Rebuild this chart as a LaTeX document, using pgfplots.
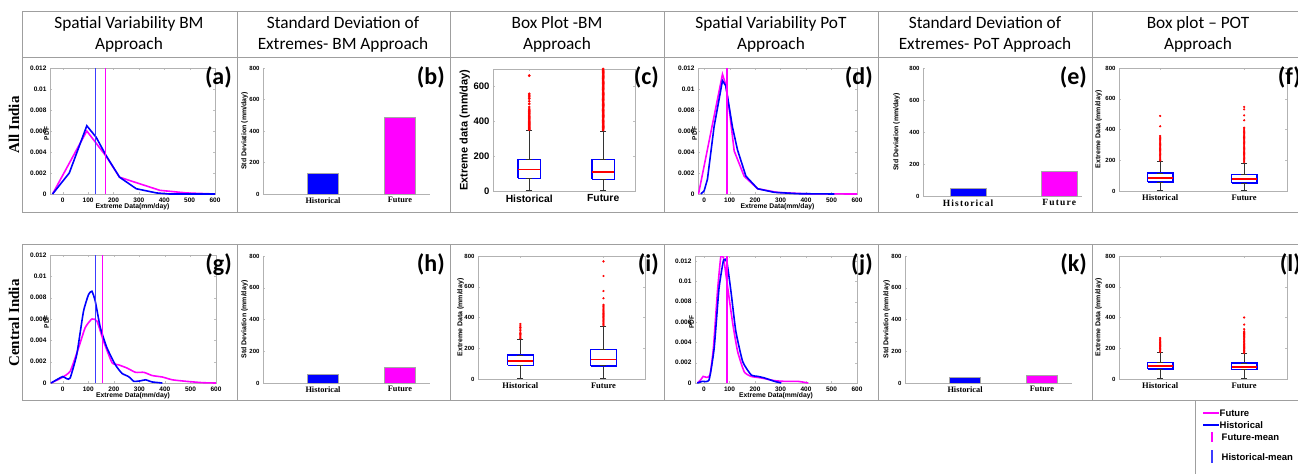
\documentclass[border=0pt]{standalone}
\usepackage{fontspec}
\setmainfont{Liberation Sans}
\newfontfamily\calib{Carlito}
\newfontfamily\tnr{Liberation Serif}
\newfontfamily\tnrw[LetterSpace=12]{Liberation Serif}
\usepackage{pgfplots}
\pgfplotsset{compat=1.18}
\newcommand{\fs}[1]{\fontsize{#1}{#1}\selectfont}
\definecolor{colF}{RGB}{255,0,255}
\definecolor{colH}{RGB}{0,0,255}
\definecolor{colHm}{RGB}{60,60,255}

\pgfplotsset{
  base/.style={scale only axis, anchor=south west, axis line style={gray!60}, tick style={gray!50},
    tick align=inside, major tick length=2pt, /pgf/number format/assume math mode=true},
  pdf/.style={base, ymin=0, ymax=0.012, xmax=600, xtick={0,100,...,600},
    ytick={0,0.002,0.004,0.006,0.008,0.01,0.012}, scaled y ticks=false,
    yticklabel style={/pgf/number format/fixed, /pgf/number format/precision=3},
    tick label style={font=\bfseries\fs{6.5}},
    xlabel={Extreme Data(mm/day)}, ylabel={PDF},
    xlabel style={font=\bfseries\fs{6.8}, at={(axis description cs:0.5,0)}, anchor=center, yshift=-13pt},
    ylabel style={font=\bfseries\fs{6.5}, at={(axis description cs:0,0.48)}, anchor=south, inner sep=1pt}},
  crv/.style={line width=1.6pt},
  meanline/.style={ycomb, line width=1.4pt, mark=none},
  bars/.style={base, axis lines*=left, axis line style={gray!60,-}, ymin=0, ymax=800,
    ytick={0,200,400,600,800}, xtick={1,2}, xticklabels={Historical,Future},
    yticklabel style={font=\bfseries\fs{6}}, xticklabel style={font=\tnr\bfseries\fs{8.3}},
    ylabel={Std Deviation (mm/day)}},
  onebar/.style={ybar, bar shift=0pt, bar width=0.4, draw=gray!70},
  boxes/.style={base, ymin=0, xtick={1,2}, xticklabels={Historical,Future},
    yticklabel style={font=\bfseries\fs{6}}, xticklabel style={font=\tnr\bfseries\fs{8.5}},
    ylabel={Extreme Data (mm/day)}},
  ylab/.style={ylabel style={font=\bfseries\fs{7}, at={([xshift=#1]axis description cs:0,0.5)}, anchor=south, inner sep=0pt}},
}

% box: position, box left, box right, lower whisker, Q1, median, Q3, upper whisker
\newcommand{\bxp}[8]{%
  \addplot[black!80, line width=1pt, mark=-, mark size=3pt] coordinates {(#1,#4) (#1,#5)};
  \addplot[black!80, line width=1pt, mark=-, mark size=3pt] coordinates {(#1,#7) (#1,#8)};
  \addplot[colH, line width=1.5pt] coordinates {(#2,#5) (#3,#5) (#3,#7) (#2,#7) (#2,#5)};
  \addplot[red, line width=1.3pt] coordinates {(#2,#6) (#3,#6)};
}
% outliers: position, mark size, values
\newcommand{\outl}[3]{%
  \addplot[only marks, mark=*, mark size=#2, red] table[row sep=\\, header=false, x expr=#1, y index=0] {#3};
}

\begin{document}
\begin{tikzpicture}
\useasboundingbox (0pt,0pt) rectangle (1298pt,-474pt);
\clip (0pt,0pt) rectangle (1298pt,-474pt);

% table frame
\begin{scope}[gray!75, line width=1pt]
\draw (22pt,-11pt) -- (1298pt,-11pt);
\draw (22pt,-57pt) -- (1298pt,-57pt);
\draw (22pt,-212pt) -- (1298pt,-212pt);
\draw (22pt,-244pt) -- (1298pt,-244pt);
\draw (22pt,-400pt) -- (1298pt,-400pt);
\foreach \cx in {22,237,450,664,878,1092} {
  \draw (\cx pt,-11pt) -- (\cx pt,-212pt);
  \draw (\cx pt,-244pt) -- (\cx pt,-400pt);
}
\draw (1195pt,-400pt) -- (1195pt,-474pt);
\end{scope}

% column titles
\begin{scope}[every node/.style={anchor=base, font=\calib\fs{17.3}, inner sep=0pt}]
\node at (129pt,-28pt) {Spatial Variability BM};  \node at (129pt,-49pt) {Approach};
\node at (343pt,-28pt) {Standard Deviation of};   \node at (343pt,-49pt) {Extremes- BM Approach};
\node at (557pt,-28pt) {Box Plot -BM};            \node at (557pt,-49pt) {Approach};
\node at (771pt,-28pt) {Spatial Variability PoT}; \node at (771pt,-49pt) {Approach};
\node at (985pt,-28pt) {Standard Deviation of};   \node at (985pt,-49pt) {Extremes- PoT Approach};
\node at (1198pt,-28pt) {Box plot – POT};         \node at (1198pt,-49pt) {Approach};
\end{scope}

% row labels
\node[rotate=90, font=\tnr\bfseries\fs{15}] at (14pt,-125pt) {All India};
\node[rotate=90, font=\tnr\bfseries\fs{15}] at (14pt,-323pt) {Central India};

% (a) spatial variability BM, all India
\begin{axis}[pdf, at={(50pt,-194pt)}, width=165pt, height=126pt, xmin=-50]
\addplot[crv, colF] coordinates {(-40,0) (95,0.006) (171,0.0036) (224,0.0016) (300,0.001) (383,0.00035) (488,0.0001) (600,0)};
\addplot[crv, colH] coordinates {(-40,0) (26,0.002) (95,0.0065) (132,0.0054) (170,0.0037) (224,0.0016) (290,0.0005) (370,0.0001) (420,0) (600,0)};
\addplot[meanline, colHm] coordinates {(129,0.012)};
\addplot[meanline, colF] coordinates {(169,0.012)};
\end{axis}

% (b) std dev BM, all India
\begin{axis}[bars, ylab=-15pt, at={(263pt,-194pt)}, width=167pt, height=126pt, xmin=0.22, xmax=2.39]
\addplot[onebar, fill=colH] coordinates {(1,130)};
\addplot[onebar, fill=colF] coordinates {(2,490)};
\end{axis}

% (c) box plot BM, all India
\begin{axis}[boxes, ylab=-23pt, at={(493pt,-191pt)}, width=142pt, height=122pt, xmin=0.51, xmax=2.43,
  ymax=700, ytick={0,200,400,600},
  yticklabel style={font=\bfseries\fs{9.5}}, xticklabel style={font=\bfseries\fs{10.3}},
  ylabel={Extreme data (mm/day)}, ylabel style={font=\bfseries\fs{11}}]
\bxp{1}{0.85}{1.15}{3}{73}{122}{182}{348}
\bxp{2}{1.85}{2.15}{3}{67}{109}{180}{344}
\outl{1}{1.2pt}{352\\ 358\\ 364\\ 370\\ 376\\ 382\\ 388\\ 394\\ 400\\ 406\\ 412\\ 418\\ 424\\ 430\\ 436\\ 442\\ 448\\ 455\\ 462\\ 470\\ 482\\ 500\\ 515\\ 530\\ 540\\ 550\\ 558\\ 662\\}
\outl{2}{1.2pt}{350\\ 357\\ 364\\ 371\\ 378\\ 385\\ 392\\ 399\\ 406\\ 413\\ 420\\ 427\\ 434\\ 441\\ 448\\ 455\\ 462\\ 469\\ 476\\ 483\\ 490\\ 497\\ 504\\ 511\\ 518\\ 525\\ 532\\ 539\\ 546\\ 553\\ 560\\ 567\\ 574\\ 581\\ 588\\ 595\\ 602\\ 609\\ 616\\ 623\\ 630\\ 637\\ 644\\ 651\\ 658\\ 665\\ 672\\ 679\\ 686\\ 693\\ 700\\}
\end{axis}

% (d) spatial variability PoT, all India
\begin{axis}[pdf, at={(698pt,-194pt)}, width=159pt, height=126pt, xmin=-24]
\addplot[crv, colF] coordinates {(-22,0) (72,0.0114) (85,0.0104) (100,0.0078) (118,0.0041) (157,0.0017) (210,0.0005) (288,0.00015) (400,0.00002) (600,0)};
\addplot[crv, colH] coordinates {(-13,0) (0,0.0003) (13,0.0014) (39,0.0064) (72,0.0108) (85,0.0103) (111,0.0064) (131,0.0042) (164,0.0017) (210,0.0005) (275,0.00016) (367,0.00003) (511,0)};
\addplot[meanline, colHm] coordinates {(87,0.012)};
\addplot[meanline, colF] coordinates {(89,0.012)};
\end{axis}

% (e) std dev PoT, all India
\begin{axis}[bars, ylab=-23pt, at={(923pt,-196pt)}, width=159pt, height=128pt, xmin=0.505, xmax=2.25,
  xticklabel style={font=\tnrw\bfseries\fs{9.5}}]
\addplot[onebar, fill=colH] coordinates {(1,50)};
\addplot[onebar, fill=colF] coordinates {(2,157)};
\end{axis}

% (f) box plot PoT, all India
\begin{axis}[boxes, ylab=-17pt, at={(1119pt,-191pt)}, width=168pt, height=123pt, xmin=0.51, xmax=2.51,
  ymax=800, ytick={0,200,400,600,800}]
\bxp{1}{0.85}{1.15}{3}{58}{85}{117}{193}
\bxp{2}{1.85}{2.15}{3}{52}{78}{108}{182}
\outl{1}{0.9pt}{198\\ 206\\ 214\\ 222\\ 230\\ 238\\ 246\\ 254\\ 262\\ 270\\ 278\\ 286\\ 294\\ 302\\ 310\\ 318\\ 326\\ 334\\ 342\\ 350\\ 358\\ 421\\ 488\\}
\outl{2}{0.9pt}{188\\ 196\\ 204\\ 212\\ 220\\ 228\\ 236\\ 244\\ 252\\ 260\\ 268\\ 276\\ 284\\ 292\\ 300\\ 308\\ 316\\ 324\\ 332\\ 340\\ 348\\ 356\\ 364\\ 372\\ 380\\ 388\\ 396\\ 404\\ 412\\ 460\\ 492\\ 531\\ 547\\}
\end{axis}

% (g) spatial variability BM, central India
\begin{axis}[pdf, at={(50pt,-383pt)}, width=166pt, height=128pt, xmin=-50]
\addplot[crv, colF, smooth, tension=0.3] coordinates {(-46,0) (-4,0.0005) (29,0.0011) (62,0.0033) (88,0.0052) (114,0.006) (134,0.0058) (160,0.0039) (193,0.0019) (219,0.0017) (252,0.0014) (285,0.001) (318,0.001) (350,0.0007) (390,0.00056) (429,0.0003) (482,0.00016) (548,0.00003) (600,0)};
\addplot[crv, colH, smooth, tension=0.3] coordinates {(-46,0) (-17,0.0004) (0,0.0006) (16,0.0004) (29,0.00047) (55,0.0027) (81,0.0067) (101,0.0083) (114,0.0086) (127,0.0077) (147,0.0052) (173,0.0033) (206,0.0017) (232,0.0009) (258,0.0006) (278,0.00016) (304,0.0002) (324,0.0003) (350,0.0001) (390,0)};
\addplot[meanline, colHm] coordinates {(129,0.012)};
\addplot[meanline, colF] coordinates {(156,0.012)};
\end{axis}

% (h) std dev BM, central India
\begin{axis}[bars, ylab=-15pt, at={(263pt,-383pt)}, width=167pt, height=127pt, xmin=0.22, xmax=2.39]
\addplot[onebar, fill=colH] coordinates {(1,54)};
\addplot[onebar, fill=colF] coordinates {(2,100)};
\end{axis}

% (i) box plot BM, central India
\begin{axis}[boxes, ylab=-14pt, at={(478pt,-379pt)}, width=167pt, height=123pt, xmin=0.49, xmax=2.5,
  ymax=800, ytick={0,200,400,600,800}]
\bxp{1}{0.845}{1.155}{3}{89}{117}{156}{256}
\bxp{2}{1.845}{2.155}{3}{85}{126}{193}{343}
\outl{1}{0.9pt}{265\\ 272\\ 280\\ 288\\ 296\\ 305\\ 315\\ 325\\ 335\\ 345\\ 358\\}
\outl{2}{0.9pt}{350\\ 357\\ 364\\ 371\\ 378\\ 385\\ 392\\ 399\\ 406\\ 413\\ 420\\ 427\\ 434\\ 441\\ 448\\ 455\\ 462\\ 469\\ 476\\ 483\\ 525\\ 572\\ 670\\ 765\\}
\end{axis}

% (j) spatial variability PoT, central India
\begin{axis}[pdf, at={(695pt,-383pt)}, width=162pt, height=127pt, xmin=-35, ymax=0.0125]
\addplot[crv, colF, smooth, tension=0.3] coordinates {(-26,0) (-13,0.0003) (-3,0.00065) (11,0.00055) (24,0.0008) (37,0.0034) (53,0.009) (66,0.0124) (77,0.0123) (92,0.0096) (112,0.006) (132,0.0031) (158,0.0011) (185,0.00065) (224,0.0005) (277,0.00023) (317,0.00016) (369,0.00016) (409,0)};
\addplot[crv, colH, smooth, tension=0.3] coordinates {(-26,0) (-7,0.00016) (20,0.0003) (40,0.0034) (59,0.0093) (77,0.0121) (90,0.0119) (106,0.009) (125,0.0051) (152,0.0021) (185,0.0008) (211,0.00065) (237,0.0005) (277,0.00016) (303,0)};
\addplot[meanline, colHm] coordinates {(88,0.0125)};
\addplot[meanline, colF] coordinates {(90,0.0125)};
\end{axis}

% (k) std dev PoT, central India
\begin{axis}[bars, ylab=-15pt, at={(905pt,-383pt)}, width=167pt, height=127pt, xmin=0.22, xmax=2.39]
\addplot[onebar, fill=colH] coordinates {(1,38)};
\addplot[onebar, fill=colF] coordinates {(2,52)};
\end{axis}

% (l) box plot PoT, central India
\begin{axis}[boxes, ylab=-17pt, at={(1119pt,-379pt)}, width=168pt, height=123pt, xmin=0.51, xmax=2.51,
  ymax=800, ytick={0,200,400,600,800}]
\bxp{1}{0.85}{1.15}{3}{65}{84}{108}{171}
\bxp{2}{1.85}{2.15}{3}{61}{78}{104}{164}
\outl{1}{0.9pt}{176\\ 183\\ 190\\ 197\\ 204\\ 211\\ 218\\ 225\\ 232\\ 239\\ 246\\ 253\\ 260\\ 267\\}
\outl{2}{0.9pt}{170\\ 177\\ 184\\ 191\\ 198\\ 205\\ 212\\ 219\\ 226\\ 233\\ 240\\ 247\\ 254\\ 261\\ 268\\ 275\\ 282\\ 289\\ 296\\ 303\\ 310\\ 324\\ 354\\ 400\\}
\end{axis}

% panel letters
\begin{scope}[every node/.style={anchor=base east, font=\calib\bfseries\fs{24}, inner sep=0pt}]
\node at (232pt,-84pt) {(a)};  \node at (445pt,-84pt) {(b)};  \node at (659pt,-84pt) {(c)};
\node at (873pt,-84pt) {(d)};  \node at (1087pt,-84pt) {(e)}; \node at (1301pt,-84pt) {(f)};
\node at (232pt,-271pt) {(g)}; \node at (445pt,-271pt) {(h)}; \node at (659pt,-271pt) {(i)};
\node at (873pt,-271pt) {(j)}; \node at (1087pt,-271pt) {(k)}; \node at (1301pt,-271pt) {(l)};
\end{scope}

% legend
\draw[colF, line width=1.4pt] (1203pt,-413pt) -- (1219pt,-413pt);
\draw[colH, line width=1.4pt] (1203pt,-425pt) -- (1219pt,-425pt);
\draw[colF, line width=1.2pt] (1212pt,-432pt) -- (1212pt,-442pt);
\draw[colHm, line width=1.2pt] (1212pt,-450pt) -- (1212pt,-463pt);
\begin{scope}[every node/.style={anchor=west, font=\bfseries\fs{9.5}, inner sep=0.5pt}]
\node at (1219pt,-413pt) {Future};
\node at (1219pt,-425pt) {Historical};
\node at (1221pt,-437pt) {Future-mean};
\node at (1221pt,-457pt) {Historical-mean};
\end{scope}
\end{tikzpicture}
\end{document}
